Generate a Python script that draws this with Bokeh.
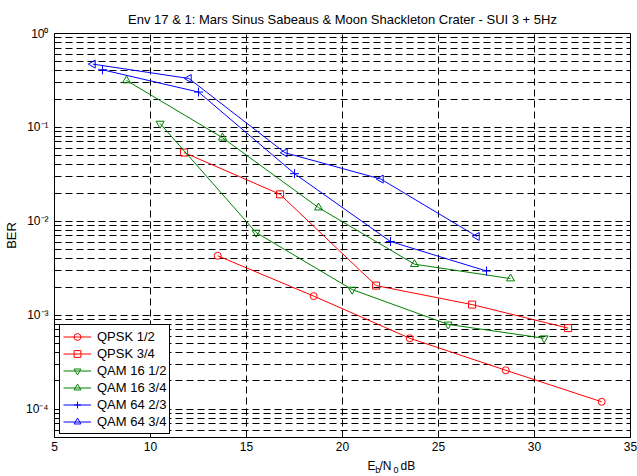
from bokeh.plotting import figure
from bokeh.layouts import column
from bokeh.models import (FixedTicker, CustomJSTickFormatter, Legend, LegendItem,
                          Label, Range1d)
from bokeh.embed import file_html
from bokeh.resources import INLINE

# ---------------- data ----------------
title_text = "Env 17 & 1: Mars Sinus Sabeaus & Moon Shackleton Crater - SUI 3 + 5Hz"

qpsk12_x = [13.5, 18.5, 23.5, 28.5, 33.5]
qpsk12_y = [4.3e-3, 1.6e-3, 5.7e-4, 2.6e-4, 1.2e-4]

qpsk34_x = [11.75, 16.75, 21.75, 26.75, 31.75]
qpsk34_y = [5.4e-2, 1.94e-2, 2.07e-3, 1.3e-3, 7.3e-4]

qam16_12_x = [10.5, 15.5, 20.5, 25.5, 30.5]
qam16_12_y = [0.11, 7.6e-3, 1.88e-3, 8.0e-4, 5.7e-4]

qam16_34_x = [8.75, 13.75, 18.75, 23.75, 28.75]
qam16_34_y = [0.316, 0.0777, 0.014, 3.5e-3, 2.46e-3]

qam64_23_x = [7.5, 12.5, 17.5, 22.5, 27.5]
qam64_23_y = [0.411, 0.238, 0.0322, 6.1e-3, 2.96e-3]

qam64_34_x = [7.0, 12.0, 17.0, 22.0, 27.0]
qam64_34_y = [0.472, 0.332, 0.0538, 0.0282, 6.9e-3]

series_names = ["QPSK 1/2", "QPSK 3/4", "QAM 16 1/2", "QAM 16 3/4", "QAM 64 2/3", "QAM 64 3/4"]

x_ticks = [5, 10, 15, 20, 25, 30, 35]
y_ticks = [1e-4, 1e-3, 1e-2, 1e-1, 1.0]
y_tick_labels = ["10\u207b\u2074", "10\u207b\u00b3", "10\u207b\u00b2", "10\u207b\u00b9", "10\u2070"]
y_minor = [k * 10.0 ** e for e in range(-5, 0) for k in range(2, 10) if k * 10.0 ** e >= 5e-5]

# x-axis label "E_b/N_0 dB": (text, is_subscript)
xlabel_parts = [("E", False), ("b", True), ("/N", False), ("0", True), ("dB", False)]

FONT = "Liberation Sans"

# ---------------- main figure ----------------
p = figure(width=637, height=456, y_axis_type="log",
           x_range=Range1d(5, 35), y_range=Range1d(5e-5, 1),
           output_backend="svg", toolbar_location=None,
           min_border_left=50, min_border_right=7,
           min_border_top=33, min_border_bottom=19,
           title=title_text)
p.background_fill_color = "white"
p.border_fill_color = "white"
p.outline_line_color = "black"
p.outline_line_width = 1
p.outline_line_alpha = 1

p.title.align = "center"
p.title.text_font = FONT
p.title.text_font_size = "13px"
p.title.text_font_style = "normal"
p.title.text_color = "black"
p.title.standoff = 14

xa = p.xaxis[0]
xa.ticker = FixedTicker(ticks=x_ticks)
xa.major_tick_in = 5
xa.major_tick_out = 0
xa.minor_tick_in = 0
xa.minor_tick_out = 0
xa.major_label_standoff = 4
xa.major_label_text_font = FONT
xa.major_label_text_font_size = "12px"
xa.major_label_text_color = "black"
xa.axis_line_color = "black"
xa.major_tick_line_color = "black"

ya = p.yaxis[0]
ya.ticker = FixedTicker(ticks=y_ticks, minor_ticks=y_minor)
ya.formatter = CustomJSTickFormatter(args=dict(vals=y_ticks, labs=y_tick_labels), code="""
let best = 0, bd = Infinity;
for (let i = 0; i < vals.length; i++) {
  const d = Math.abs(Math.log10(vals[i]) - Math.log10(tick));
  if (d < bd) { bd = d; best = i; }
}
return labs[best];
""")
ya.major_tick_in = 5
ya.major_tick_out = 0
ya.minor_tick_in = 3
ya.minor_tick_out = 0
ya.major_label_standoff = 6
ya.major_label_text_font = FONT
ya.major_label_text_font_size = "12px"
ya.major_label_text_color = "black"
ya.axis_line_color = "black"
ya.axis_label = "BER"
ya.axis_label_text_font = FONT
ya.axis_label_text_font_size = "13px"
ya.axis_label_text_font_style = "normal"
ya.axis_label_text_color = "black"
ya.axis_label_standoff = 4

p.xgrid.ticker = xa.ticker
p.ygrid.ticker = ya.ticker
for g in (p.xgrid[0], p.ygrid[0]):
    g.grid_line_color = "black"
    g.grid_line_dash = "7 4"
    g.grid_line_width = 1
    g.grid_line_alpha = 1
p.ygrid[0].minor_grid_line_color = "black"
p.ygrid[0].minor_grid_line_dash = "7 4"
p.ygrid[0].minor_grid_line_width = 1
p.ygrid[0].minor_grid_line_alpha = 1

# ---------------- series ----------------
RED, GREEN, BLUE = "#ff0000", "#008000", "#0000ff"
series = [
    (qpsk12_x, qpsk12_y, series_names[0], RED, "circle", 0.0, 7),
    (qpsk34_x, qpsk34_y, series_names[1], RED, "square", 0.0, 7),
    (qam16_12_x, qam16_12_y, series_names[2], GREEN, "inverted_triangle", 0.0, 8),
    (qam16_34_x, qam16_34_y, series_names[3], GREEN, "triangle", 0.0, 8),
    (qam64_23_x, qam64_23_y, series_names[4], BLUE, "cross", 0.0, 9),
    (qam64_34_x, qam64_34_y, series_names[5], BLUE, "triangle", 1.5707963, 8),
]
items = []
for xs, ys, name, col, mk, ang, sz in series:
    rl = p.line(xs, ys, line_color=col, line_width=1)
    rm = p.scatter(xs, ys, marker=mk, size=sz, angle=ang, line_color=col,
                   fill_color=None, line_width=1)
    items.append(LegendItem(label=name, renderers=[rl, rm]))

legend = Legend(items=items, location=(5, 3), padding=3, spacing=0, margin=0,
                glyph_width=28, glyph_height=17, label_height=17, label_standoff=6,
                label_text_font=FONT, label_text_font_size="13px",
                label_text_color="black",
                border_line_color="black", border_line_width=1, border_line_alpha=1,
                background_fill_color="white", background_fill_alpha=1)
p.add_layout(legend)

# ---------------- x-axis label strip (E_b/N_0 dB with subscripts) ----------------
q = figure(width=637, height=20, x_range=Range1d(0, 637), y_range=Range1d(0, 20),
           output_backend="svg", toolbar_location=None,
           x_axis_location=None, y_axis_location=None,
           min_border=0, min_border_left=0, min_border_right=0,
           min_border_top=0, min_border_bottom=0)
q.outline_line_color = None
q.grid.visible = False
q.background_fill_color = "white"
q.border_fill_color = "white"

part_x = [313.0, 320.8, 325.0, 339.0, 346.0]
for (txt, sub), px in zip(xlabel_parts, part_x):
    q.add_layout(Label(x=px, y=7 if sub else 11, x_units="screen", y_units="screen",
                       text=txt, text_font=FONT,
                       text_font_size="9px" if sub else "12px",
                       text_color="black", text_align="left",
                       text_baseline="alphabetic"))

layout = column(p, q, spacing=0)
html = file_html(layout, INLINE, title="BER")
with open("out.html", "w", encoding="utf-8") as f:
    f.write(html)
